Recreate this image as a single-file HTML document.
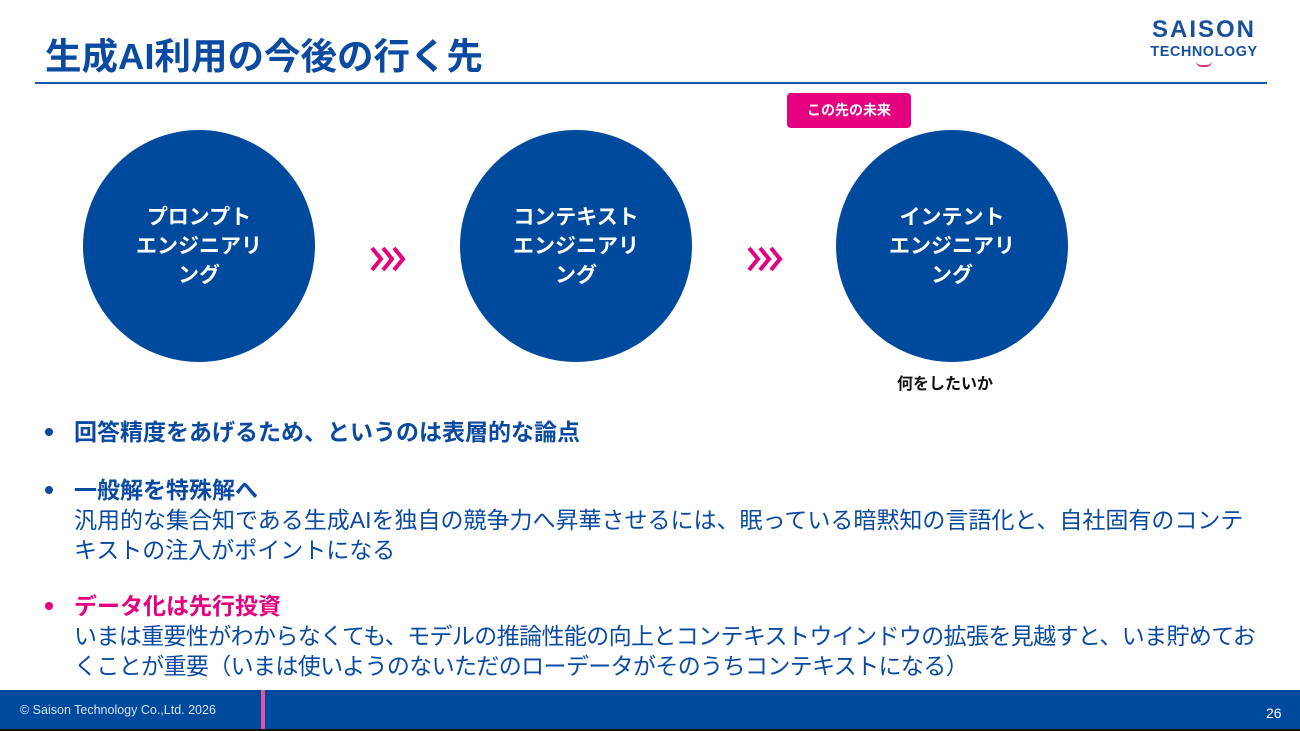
<!DOCTYPE html>
<html><head><meta charset="utf-8"><style>
*{margin:0;padding:0;box-sizing:border-box}
body{width:1300px;height:731px;position:relative;overflow:hidden;background:#fff;font-family:"Liberation Sans","Noto Sans CJK JP",sans-serif;color:#0a4aa0}
.abs{position:absolute}
.title{left:45px;top:34px;font-size:36.5px;font-weight:bold;color:#0a4aa0;white-space:nowrap;line-height:46px}
.rule{left:35px;top:82px;width:1232px;height:2px;background:#1a56a8}
.circ{width:232px;height:232px;border-radius:50%;background:#004a9e;top:130px;color:#fff;font-weight:bold;font-size:21px;line-height:29px;text-align:center;display:flex;align-items:center;justify-content:center}
.badge{left:787px;top:93px;width:124px;height:35px;background:#e4007f;color:#fff;border-radius:4px;font-size:14px;font-weight:bold;text-align:center;line-height:35px}
.b{left:74px;font-size:23px;line-height:30px;white-space:nowrap}
.dot{left:45px;width:8px;height:8px;border-radius:50%;background:#0a4aa0}
.h{font-weight:bold}
</style></head><body>
<div class="abs title">生成AI利用の今後の行く先</div>
<div class="abs rule"></div>
<div class="abs" style="left:1144px;top:16px;width:120px;text-align:center;color:#1a4f9c;font-weight:bold">
<div style="font-size:24px;letter-spacing:2px;line-height:28px">SAISON</div>
<div style="font-size:14.5px;letter-spacing:0.5px;line-height:16px">TECHNOLOGY</div>
<div style="margin:1px auto 0;width:16px;height:6px;border-bottom:2px solid #d0337f;border-radius:0 0 8px 8px"></div>
</div>
<div class="abs badge">この先の未来</div>
<div class="abs circ" style="left:83px">プロンプト<br>エンジニアリ<br>ング</div>
<div class="abs circ" style="left:460px">コンテキスト<br>エンジニアリ<br>ング</div>
<div class="abs circ" style="left:836px">インテント<br>エンジニアリ<br>ング</div>
<svg class="abs" style="left:370px;top:246px" width="40" height="28"><g fill="none" stroke="#e4007f" stroke-width="4"><polyline points="2,2 11,13 2,24"/><polyline points="13,2 22,13 13,24"/><polyline points="24,2 33,13 24,24"/></g></svg>
<svg class="abs" style="left:747px;top:246px" width="40" height="28"><g fill="none" stroke="#e4007f" stroke-width="4"><polyline points="2,2 11,13 2,24"/><polyline points="13,2 22,13 13,24"/><polyline points="24,2 33,13 24,24"/></g></svg>
<div class="abs" style="left:897px;top:370px;font-size:16px;font-weight:bold;color:#111">何をしたいか</div>
<div class="abs dot" style="top:428px"></div>
<div class="abs b h" style="top:417px">回答精度をあげるため、というのは表層的な論点</div>
<div class="abs dot" style="top:486px"></div>
<div class="abs b" style="top:475px"><span class="h">一般解を特殊解へ</span><br>汎用的な集合知である生成AIを独自の競争力へ昇華させるには、眠っている暗黙知の言語化と、自社固有のコンテ<br>キストの注入がポイントになる</div>
<div class="abs dot" style="top:602px;background:#e4007f"></div>
<div class="abs b" style="top:591px"><span class="h" style="color:#e4007f">データ化は先行投資</span><br><span style="letter-spacing:-0.62px">いまは重要性がわからなくても、モデルの推論性能の向上とコンテキストウインドウの拡張を見越すと、いま貯めてお<br>くことが重要（いまは使いようのないただのローデータがそのうちコンテキストになる）</span></div>
<div class="abs" style="left:0;top:690px;width:1300px;height:39px;background:#004a9e"></div>
<div class="abs" style="left:0;top:729px;width:1300px;height:2px;background:#111"></div>
<div class="abs" style="left:261px;top:690px;width:4px;height:39px;background:#e0559a"></div>
<div class="abs" style="left:20px;top:703px;font-size:12.5px;color:#d8e2f0">© Saison Technology Co.,Ltd. 2026</div>
<div class="abs" style="left:1266px;top:705px;font-size:14px;color:#fff">26</div>
</body></html>
